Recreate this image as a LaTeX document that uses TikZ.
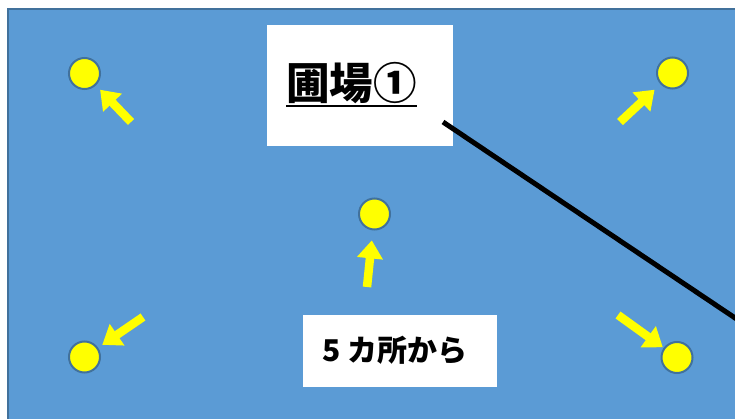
\documentclass[tikz,border=0pt]{standalone}
\usepackage{fontspec}
\newfontfamily\jpfont{Noto Sans CJK JP}
\usetikzlibrary{arrows.meta}
\definecolor{field}{HTML}{5B9BD5}
\definecolor{fieldline}{HTML}{41719C}
\definecolor{spot}{HTML}{FFFF00}
\tikzset{
  point/.style={circle,draw=fieldline,line width=2pt,fill=spot,minimum size=31pt,inner sep=0pt},
  pointer/.style={draw=spot,line width=8.5pt,-{Triangle[length=18pt,width=25pt]}},
  whitebox/.style={fill=white,draw=none,inner sep=0pt},
  caption/.style={inner sep=0pt,anchor=base,font=\jpfont\bfseries}
}
\begin{document}
\begin{tikzpicture}[x=1pt,y=-1pt]
\useasboundingbox (0,0) rectangle (735,419);
\clip (0,0) rectangle (735,419);
\draw[fill=field,draw=fieldline,line width=2.5pt] (8,9) rectangle (760,440);

\node[whitebox,minimum width=186pt,minimum height=121pt] (titlebox) at (360,85.5) {};
\node[caption] (title) at (351.5,99.5) {\fontsize{43.5}{50}\selectfont 圃場①};
\draw[line width=2.5pt] ([yshift=-6.5pt]title.base west) -- ([yshift=-6.5pt]title.base east);

\node[whitebox,minimum width=194pt,minimum height=72pt] (notebox) at (400,351) {};
\node[caption] (note) at (395,361.5) {\fontsize{30}{34}\selectfont 5 カ所から};

\node[point] (p1) at (84.5,73.5) {};
\node[point] (p2) at (672.5,73) {};
\node[point] (p3) at (374.5,214) {};
\node[point] (p4) at (84.5,357) {};
\node[point] (p5) at (677,357.5) {};

\coordinate (a1) at (131,122);
\coordinate (a2) at (620,122);
\coordinate (a3) at (367,287);
\coordinate (a4) at (143,317);
\coordinate (a5) at (618,315);
\draw[pointer,shorten >=6pt] (a1) -- (p1);
\draw[pointer,shorten >=8pt] (a2) -- (p2);
\draw[pointer,shorten >=10pt] (a3) -- (p3);
\draw[pointer,shorten >=5pt] (a4) -- (p4);
\draw[pointer,shorten >=1pt] (a5) -- (p5);

\coordinate (lineA) at (443,122);
\coordinate (lineB) at (760,334.7);
\draw[line width=5pt] (lineA) -- (lineB);
\end{tikzpicture}
\end{document}
